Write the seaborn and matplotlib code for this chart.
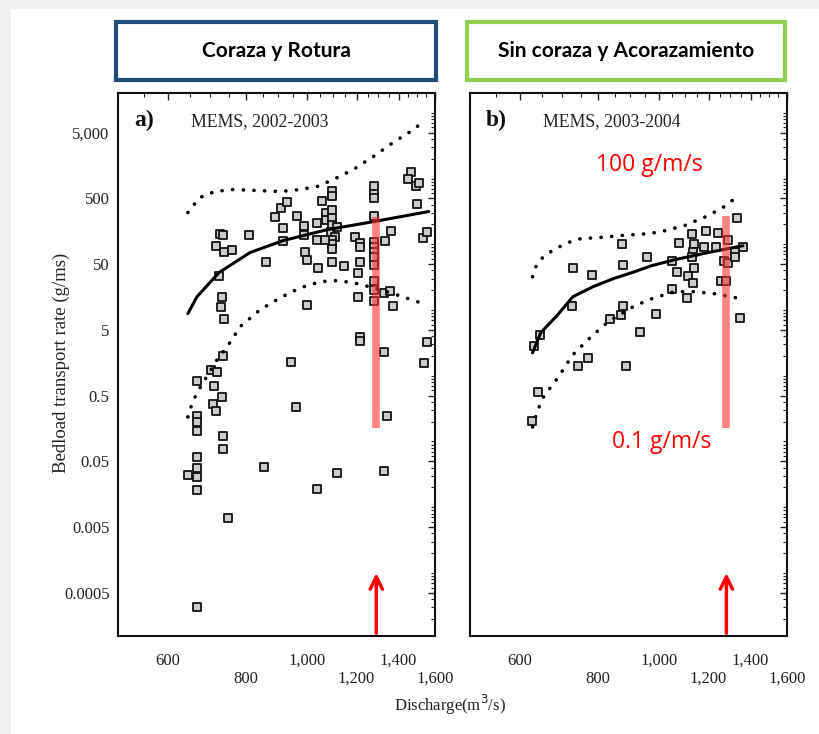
"""
Bedload transport rate vs discharge — MEMS 2002-2003 / 2003-2004
"""
import numpy as np
import pandas as pd
import matplotlib
matplotlib.use('Agg')
import matplotlib.pyplot as plt
import matplotlib.ticker as mticker
from matplotlib.patches import Rectangle
import seaborn as sns

# ---- panel a (2002-2003) ----
qa = [716, 727, 735, 739, 760, 809, 724, 732, 729, 737,
      861, 890, 910, 930, 917, 917, 965, 990, 990, 994,
      1002, 1002, 1039, 1039, 1043, 1058, 1074, 1074, 1098, 1098,
      1098, 1098, 1098, 1094, 1110, 1098, 1098, 1098, 1070, 1098,
      1118, 1147, 1195, 1213, 1213, 1213, 1208, 1204, 1213, 1217,
      1281, 1281, 1281, 1281, 1281, 1281, 1281, 1281, 1281, 1281, 1281, 1281,
      1325, 1354, 1331, 1361, 1373, 1464, 1448, 1490, 1507, 1496, 1529, 1552, 1556,
      1325, 1537, 1340, 1325, 944, 962, 855, 1039, 1118,
      735, 703, 720, 712, 668, 732, 708, 716, 668, 668, 668, 735, 735, 668, 668,
      646, 668, 668, 748, 668]
ra = [95, 145, 140, 75, 83, 140, 33, 15.9, 11.2, 7.4,
      53, 264, 362, 447, 179, 114, 273, 192, 136, 75,
      58, 12, 214, 118, 44, 463, 304, 238, 635, 533,
      337, 255, 199, 156, 131, 118, 102, 86, 118, 53,
      186, 46, 131, 106, 92, 53, 37, 15.9, 3.9, 3.4,
      783, 591, 497, 273, 110, 92, 75, 63, 49, 28, 20, 13.8,
      18.3, 19.7, 114, 161, 11.6, 1236, 967, 757, 870, 416, 126, 156, 3.28,
      2.3, 1.57, 0.245, 0.0355, 1.63, 0.335, 0.041, 0.0188, 0.033,
      2.0, 1.23, 1.15, 0.70, 0.84, 0.48, 0.37, 0.29, 0.245, 0.198, 0.144, 0.121, 0.077, 0.058, 0.039,
      0.031, 0.0287, 0.0182, 0.0068, 0.0003]

fit_a_q = [646, 668, 724, 812, 917, 1078, 1277, 1564]
fit_a_r = [8.8, 15.9, 37, 75, 114, 167, 221, 315]
up_a_q = [646, 675, 713, 763, 833, 907, 976, 1039, 1102, 1186, 1277, 1373, 1464, 1529]
up_a_r = [304, 514, 635, 681, 657, 635, 681, 757, 967, 1374, 2168, 3547, 5216, 7150]
lo_a_q = [646, 655, 668, 692, 719, 746, 783, 842, 907, 976, 1051, 1118, 1186, 1277, 1373, 1518]
lo_a_r = [0.236, 0.36, 0.55, 0.96, 1.75, 2.75, 5.6, 10.1, 15.4, 21.8, 27, 28, 26, 21.8, 17.7, 12.9]

# ---- panel b (2003-2004) ----
qb = [1330, 1190, 1131, 1244, 1287, 1078, 1139, 1178, 1231, 1361,
      1320, 1135, 874, 958, 877, 729, 783, 1051, 1131, 1268,
      1287, 1320, 1070, 1139, 1114, 1135, 1258, 1277, 1051, 1110,
      1349, 727, 877, 871, 836, 990, 934, 646, 632, 771,
      743, 887, 641, 627]
rb = [255, 161, 145, 150, 118, 106, 102, 92, 92, 92,
      77, 77, 102, 65, 49, 44, 34, 56, 63, 56,
      51, 63, 38, 44, 33, 26, 28, 28, 21, 15.4,
      7.6, 11.6, 11.6, 8.5, 7.4, 8.8, 4.66, 4.2, 2.85, 1.87,
      1.41, 1.41, 0.57, 0.205]

fit_b_q = [629, 648, 690, 729, 785, 846, 913, 972, 1058, 1199, 1361]
fit_b_r = [2.23, 4.5, 8.47, 15.9, 22.6, 30, 38, 47, 58, 75, 95]
up_b_q = [629, 637, 653, 680, 716, 751, 800, 871, 962, 1009, 1098, 1199, 1272, 1340]
up_b_r = [32, 46, 63, 83, 106, 122, 126, 136, 145, 156, 192, 273, 375, 552]
lo_b_q = [629, 641, 655, 690, 729, 779, 830, 903, 962, 1009, 1058, 1139, 1226, 1354]
lo_b_r = [0.166, 0.30, 0.48, 0.93, 2.08, 3.9, 6.6, 10.8, 14.3, 16.5, 19, 19, 17.7, 14.8]

# red highlight bar / arrow position and range
bar_q = [1290, 1281]
bar_lo = [0.16, 0.16]
bar_hi = [264, 273]

x_ticks = [600, 800, 1000, 1200, 1400, 1600]
x_labels = ['600', '\n800', '1,000', '\n1,200', '1,400', '\n1,600']
y_ticks = [0.0005, 0.005, 0.05, 0.5, 5, 50, 500, 5000]
y_labels = ['0.0005', '0.005', '0.05', '0.5', '5', '50', '500', '5,000']

sns.set_theme(style='white')
plt.rcParams['font.family'] = ['Liberation Serif', 'DejaVu Serif']

W, H = 820, 734
fig = plt.figure(figsize=(W / 100, H / 100), dpi=100)
fig.patch.set_facecolor('white')

# light grey page edges
fig.add_artist(Rectangle((0, 1 - 9 / H), 1, 9 / H, transform=fig.transFigure,
                         facecolor='#f0f0f0', edgecolor='none', zorder=0))
fig.add_artist(Rectangle((0, 0), 11 / W, 1, transform=fig.transFigure,
                         facecolor='#f0f0f0', edgecolor='none', zorder=0))


def px_axes(x0, x1, y0, y1):
    return fig.add_axes([x0 / W, 1 - y1 / H, (x1 - x0) / W, (y1 - y0) / H])


ax_a = px_axes(118, 435, 93, 636)
ax_b = px_axes(470, 787, 93, 636)

panels = [
    (ax_a, qa, ra, fit_a_q, fit_a_r, up_a_q, up_a_r, lo_a_q, lo_a_r, 'a)', 'MEMS, 2002-2003'),
    (ax_b, qb, rb, fit_b_q, fit_b_r, up_b_q, up_b_r, lo_b_q, lo_b_r, 'b)', 'MEMS, 2003-2004'),
]

dot = (0, (0.05, 2.9))
for i, (ax, q, r, fq, fr, uq, ur, lq, lr, tag, title) in enumerate(panels):
    ax.set_xscale('log')
    ax.set_yscale('log')
    ax.set_xlim(500, 1600)
    ax.set_ylim(1.1e-4, 2.0e4)

    sns.scatterplot(x=q, y=r, ax=ax, marker='s', s=30, color='#cccccc',
                    edgecolor='#111111', linewidth=1.3, zorder=3, legend=False)
    sns.lineplot(x=fq, y=fr, ax=ax, color='black', lw=2.2, estimator=None,
                 sort=False, zorder=4)
    for cq, cr in [(uq, ur), (lq, lr)]:
        ln = sns.lineplot(x=cq, y=cr, ax=ax, color='black', lw=2.6,
                          estimator=None, sort=False, zorder=4)
        ln.lines[-1].set_linestyle(dot)
        ln.lines[-1].set_dash_capstyle('round')

    ax.vlines(bar_q[i], bar_lo[i], bar_hi[i], color='#ff3030', alpha=0.6,
              lw=5.5, zorder=5)
    ax.annotate('', xy=(bar_q[i], 0.0011), xytext=(bar_q[i], 1.1e-4),
                arrowprops=dict(arrowstyle='->', color='red', lw=2.5,
                                mutation_scale=22), zorder=6)

    ax.xaxis.set_major_locator(mticker.FixedLocator(x_ticks))
    ax.xaxis.set_major_formatter(mticker.FixedFormatter(x_labels))
    ax.xaxis.set_minor_locator(mticker.MultipleLocator(50))
    ax.xaxis.set_minor_formatter(mticker.NullFormatter())
    ax.yaxis.set_major_locator(mticker.FixedLocator(y_ticks))
    ax.yaxis.set_minor_locator(mticker.LogLocator(base=10, subs=np.arange(1, 10), numticks=30))
    ax.yaxis.set_minor_formatter(mticker.NullFormatter())
    if i == 0:
        ax.yaxis.set_major_formatter(mticker.FixedFormatter(y_labels))
    else:
        ax.yaxis.set_major_formatter(mticker.NullFormatter())

    ax.tick_params(which='both', direction='in', top=True, right=True,
                   colors='#222222', labelsize=12, labelcolor='#222222')
    ax.tick_params(which='major', length=5, width=1)
    ax.tick_params(which='minor', length=3, width=0.8)
    ax.tick_params(axis='x', which='major', pad=12)
    ax.tick_params(axis='y', which='major', pad=6)
    for sp in ax.spines.values():
        sp.set_linewidth(1.5)
        sp.set_color('#111111')
    ax.set_xlabel('')
    ax.set_ylabel('')

    ax.text(0.05, 0.95, tag, transform=ax.transAxes, fontsize=17,
            fontweight='bold', va='center', ha='left', color='#111111')
    ax.text(0.23, 0.948, title, transform=ax.transAxes, fontsize=12.8,
            va='center', ha='left', color='#222222')

red_font = ['Open Sans', 'DejaVu Sans']
ax_b.text(965, 1581, '100 g/m/s', color='red', fontsize=16.5, ha='center',
          va='center', family=red_font)
ax_b.text(1009, 0.098, '0.1 g/m/s', color='red', fontsize=16.5, ha='center',
          va='center', family=red_font)

fig.text(61 / W, 1 - 363 / H, 'Bedload transport rate (g/ms)', rotation=90,
         ha='center', va='center', fontsize=13.5, color='#222222')
fig.text(450 / W, 1 - 705 / H, 'Discharge(m$^3$/s)', ha='center', va='center',
         fontsize=12, color='#222222')

# header boxes
head_font = ['Lato', 'DejaVu Sans']
for (x0, x1, col, label) in [(116, 436, '#1f4e79', 'Coraza y Rotura'),
                             (467, 785, '#92d050', 'Sin coraza y Acorazamiento')]:
    fig.add_artist(Rectangle((x0 / W, 1 - 80 / H), (x1 - x0) / W, 58 / H,
                             transform=fig.transFigure, facecolor='white',
                             edgecolor=col, lw=3))
    fig.text((x0 + x1) / 2 / W, 1 - 51 / H, label, ha='center', va='center',
             fontsize=15, fontweight='bold', color='black', family=head_font)

fig.savefig('out.png', dpi=100)
plt.close(fig)
